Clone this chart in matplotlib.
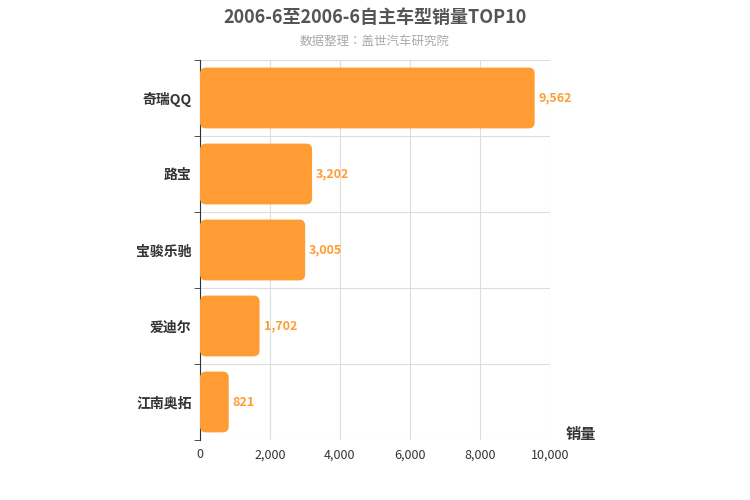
import matplotlib
matplotlib.use("Agg")
import matplotlib.pyplot as plt
from matplotlib import font_manager
from matplotlib.patches import FancyBboxPatch

# find an installed CJK font
cjk = [f.name for f in font_manager.fontManager.ttflist if "CJK" in f.name]
cjk_name = "Noto Sans CJK SC" if "Noto Sans CJK SC" in cjk else (cjk[0] if cjk else "DejaVu Sans")
plt.rcParams["font.family"] = "sans-serif"
plt.rcParams["font.sans-serif"] = [cjk_name, "DejaVu Sans"]

# data
models = ["奇瑞QQ", "路宝", "宝骏乐驰", "爱迪尔", "江南奥拓"]
sales = [9562, 3202, 3005, 1702, 821]
xticks = [0, 2000, 4000, 6000, 8000, 10000]

BAR_COLOR = "#FF9C33"

fig = plt.figure(figsize=(7.5, 5), dpi=100)
ax = fig.add_axes([200 / 750, 60 / 500, 350 / 750, 380 / 500])

ypos = list(range(len(models)))[::-1]
bars = ax.barh(ypos, sales, height=0.8, color=BAR_COLOR)
ax.set_xlim(0, 10000)
ax.set_ylim(-0.5, len(models) - 0.5)

# replace bars with rounded ones
px_x = 10000 / 350
px_y = len(models) / 380
for b in bars:
    x0, y0 = b.get_x(), b.get_y()
    w, h = b.get_width(), b.get_height()
    b.set_visible(False)
    p = FancyBboxPatch((x0, y0), w, h,
                       boxstyle=f"round,pad=0,rounding_size={6 * px_x}",
                       mutation_aspect=px_y / px_x,
                       facecolor=BAR_COLOR, edgecolor="none", zorder=3)
    ax.add_patch(p)

for y, v in zip(ypos, sales):
    ax.text(v + 4 * px_x, y, f"{v:,}", va="center", ha="left",
            fontsize=9, color=BAR_COLOR, fontweight="bold", zorder=4)

ax.set_yticks(ypos)
ax.set_yticklabels(models, fontsize=10, fontweight="bold", color="#333333")
ax.set_yticks([i + 0.5 for i in range(-1, len(models))], minor=True)
ax.tick_params(axis="y", which="major", length=0, pad=6)
ax.tick_params(axis="y", which="minor", length=4, color="#333333")
ax.set_xticks(xticks)
ax.set_xticklabels([f"{t:,}" for t in xticks], fontsize=9, color="#333333")
ax.tick_params(axis="x", length=0, pad=6)

ax.grid(axis="x", color="#dddddd", linewidth=0.8, zorder=0)
ax.grid(axis="y", which="minor", color="#dddddd", linewidth=0.8, zorder=0)
for s in ["top", "right", "bottom"]:
    ax.spines[s].set_visible(False)
ax.spines["left"].set_color("#333333")

ax.text(1.045, -0.005, "销量", transform=ax.transAxes, fontsize=11,
        fontweight="bold", color="#333333", ha="left", va="bottom")

fig.text(0.5, 0.965, "2006-6至2006-6自主车型销量TOP10", ha="center", va="center",
         fontsize=13, fontweight="bold", color="#555555")
fig.text(0.5, 0.918, "数据整理：盖世汽车研究院", ha="center", va="center",
         fontsize=9, color="#aaaaaa")

fig.savefig("out.png", dpi=100)
